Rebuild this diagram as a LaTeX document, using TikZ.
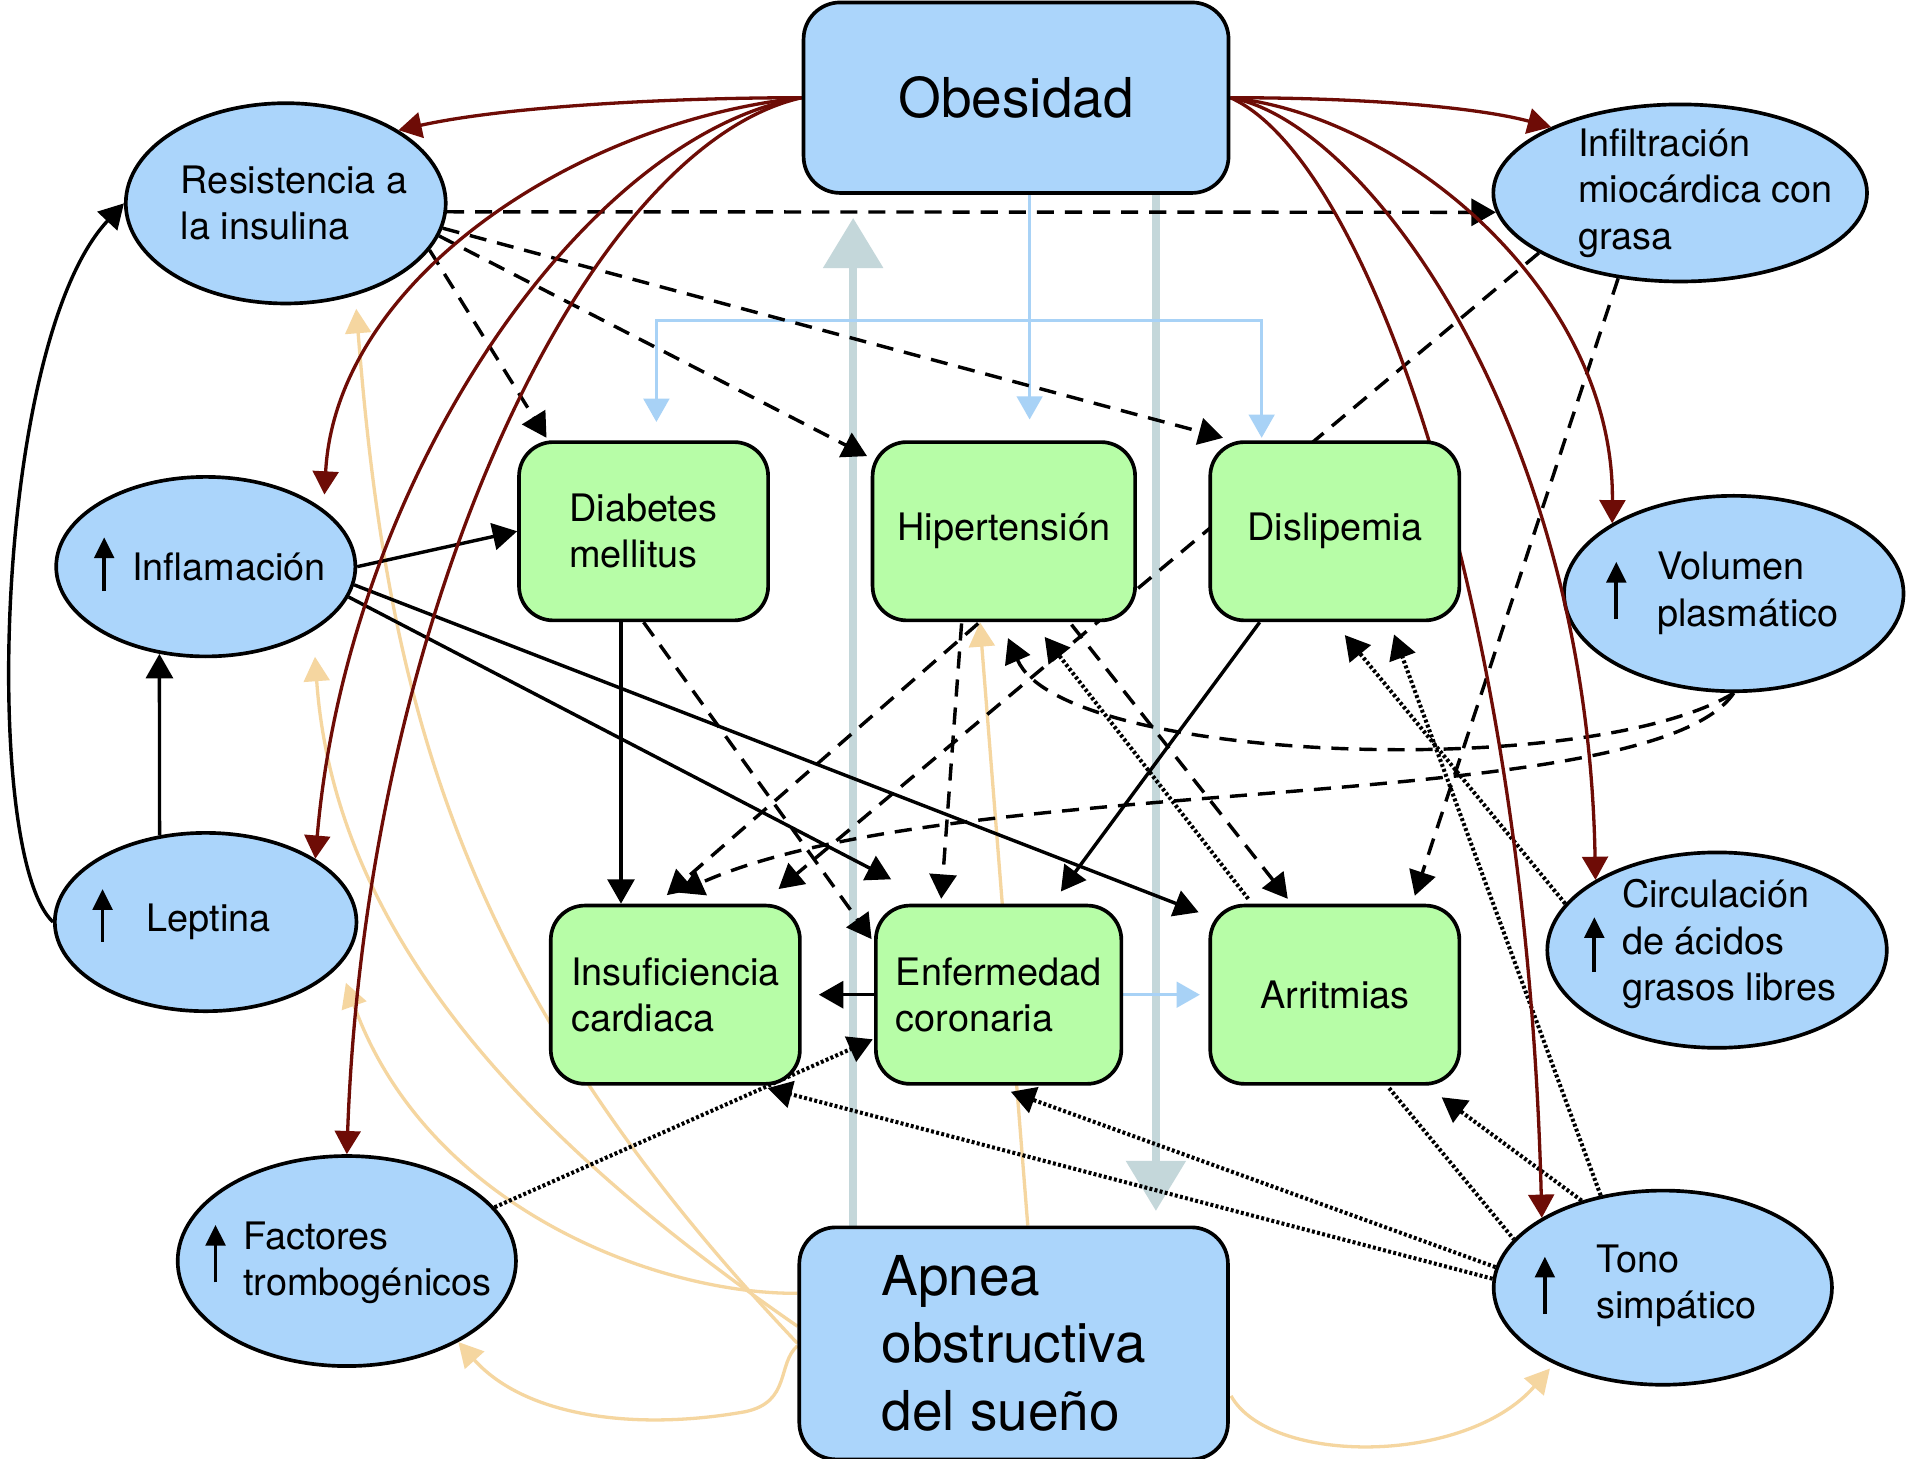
\documentclass[tikz,border=0pt]{standalone}
\usepackage{fontspec}
\setmainfont{TeX Gyre Heros}
\usetikzlibrary{arrows.meta,shapes.geometric,calc}
\pgfdeclarelayer{back}
\pgfdeclarelayer{edges}
\pgfsetlayers{back,edges,main}
\definecolor{cBlue}{RGB}{171,213,251}
\definecolor{cGreen}{RGB}{183,253,167}
\definecolor{cRed}{RGB}{110,12,6}
\definecolor{cTan}{RGB}{245,214,160}
\definecolor{cLine}{RGB}{168,210,246}
\definecolor{cGrey}{RGB}{196,215,218}
\newcommand\normf{\fontsize{31}{38}\selectfont}
\newcommand\bigf{\fontsize{45}{55}\selectfont}
\tikzset{
  nbox/.style={draw, line width=3pt, align=left, inner sep=0pt},
  bluebox/.style={nbox, fill=cBlue, rounded corners=30pt, font=\bigf},
  greenbox/.style={nbox, fill=cGreen, rounded corners=28pt, font=\normf, minimum width=204pt, minimum height=146pt},
  ell/.style={draw, ellipse, line width=3pt, fill=cBlue, inner sep=0pt},
  lbl/.style={anchor=west, align=left, inner sep=0pt, font=\normf},
  upar/.style={line width=3pt, -{Triangle[length=17pt,width=16pt]}},
  blk/.style={line width=2.8pt, -{Triangle[length=20pt,width=22pt]}},
  dsh/.style={blk, dash pattern=on 14pt off 9pt},
  dotl/.style={line width=3.3pt, dash pattern=on 2.4pt off 1.9pt},
  dtt/.style={dotl, -{Triangle[length=20pt,width=22pt]}},
  rd/.style={line width=2.7pt, draw=cRed, -{Triangle[length=19pt,width=21pt]}, color=cRed},
  ta/.style={line width=2.7pt, draw=cTan, -{Triangle[length=20pt,width=21pt]}, color=cTan},
  bl/.style={line width=2.3pt, draw=cLine, -{Triangle[length=19pt,width=21pt]}, color=cLine},
  gr/.style={line width=6pt, draw=cGrey, -{Triangle[length=41pt,width=48pt]}, color=cGrey}
}
\begin{document}
\begin{tikzpicture}[x=1pt,y=-1pt]
\begin{pgfonlayer}{back}
\fill[white] (0,0) rectangle (1564,1194);
\end{pgfonlayer}
\useasboundingbox (0,0) rectangle (1564,1194);

% ellipses (under the connectors)
\begin{pgfonlayer}{edges}
\node[ell, minimum width=262pt, minimum height=164pt] (res) at (234,166.5) {};
\node[ell, minimum width=245pt, minimum height=147pt] (inf) at (168.5,464) {};
\node[ell, minimum width=247pt, minimum height=146pt] (lep) at (168.4,755) {};
\node[ell, minimum width=277pt, minimum height=172pt] (fac) at (284,1032.6) {};
\node[ell, minimum width=306pt, minimum height=145pt] (infil) at (1375.8,158) {};
\node[ell, minimum width=278pt, minimum height=160pt] (vol) at (1419.7,486) {};
\node[ell, minimum width=278pt, minimum height=160pt] (circ) at (1406,778) {};
\node[ell, minimum width=277pt, minimum height=159pt] (tono) at (1361.6,1054.4) {};
\end{pgfonlayer}

% boxes (on top)
\node[bluebox, minimum width=348pt, minimum height=156pt] (ob) at (832,80) {Obesidad};
\node[bluebox, minimum width=351pt, minimum height=190pt] (ap) at (830,1100) {Apnea\\obstructiva\\del sueño};
\node[greenbox] (dm) at (527,435) {Diabetes\\mellitus};
\node[greenbox, minimum width=215pt] (hip) at (822,435) {Hipertensión};
\node[greenbox] (dis) at (1093,435) {Dislipemia};
\node[greenbox] (ic) at (553,814.5) {Insuficiencia\\cardiaca};
\node[greenbox, minimum width=201pt] (ec) at (817.7,814.5) {Enfermedad\\coronaria};
\node[greenbox] (arr) at (1093,814.5) {Arritmias};

% ellipse texts
\node[lbl] (resT) at (148,166) {Resistencia a\\la insulina};
\node[lbl] (infT) at (108,464) {Inflamación};
\node[lbl] (lepT) at (120,755) {Leptina};
\node[lbl] (facT) at (199,1034) {Factores\\trombogénicos};
\node[lbl] (infilT) at (1292,158) {Infiltración\\miocárdica con\\grasa};
\node[lbl] (volT) at (1357,486) {Volumen\\plasmático};
\node[lbl] (circT) at (1328,773) {Circulación\\de ácidos\\grasos libres};
\node[lbl] (tonoT) at (1307,1053) {Tono\\simpático};
\draw[upar] (85.3,484) -- (85.3,440);
\draw[upar] (84,771) -- (84,728);
\draw[upar] (176.5,1050) -- (176.5,1003);
\draw[upar] (1323.5,507) -- (1323.5,460);
\draw[upar] (1305.5,796) -- (1305.5,751);
\draw[upar] (1265,1076) -- (1265,1029);

\coordinate (busC) at ($(ob.south west)+(186.6,0)$);
\coordinate (busJ) at ($(busC)+(0,103)$);
\coordinate (dmN) at ($(dm.north west)+(114,0)$);
\coordinate (disN) at ($(dis.north west)+(43.6,0)$);
\coordinate (apU) at ($(ap.north west)+(45.6,0)$);
\coordinate (obD) at ($(ob.south west)+(290,0)$);
\coordinate (dmS) at ($(dm.south west)+(85,0)$);

\begin{pgfonlayer}{edges}
% grey
\draw[gr, shorten >=19pt] (apU) -- (apU |- ob.south);
\draw[gr, shorten >=12pt] (obD) -- (obD |- ap.north);
% light blue
\draw[bl, shorten >=17pt] (busC) -- (busC |- hip.north);
\draw[bl, shorten >=15pt] (busJ) -| (dmN);
\draw[bl, shorten >=2pt] (busJ) -| (disN);
\draw[bl, shorten >=7pt] (ec.east) -- (arr.west);

% tan
\draw[ta, shorten >=11pt] (ap.west) .. controls (374,806) and (317,572) .. (res.-53);
\draw[ta, shorten >=21pt] ($(ap.west)+(0,-14)$) .. controls (454,948) and (275,780) .. (inf.-31);
\draw[ta, shorten >=15pt] ($(ap.west)+(0,-41)$) .. controls (540,1060) and (350,990) .. (lep.-18.5);
\draw[ta] ($(ap.west)+(0,2)$) .. controls (636,1117) and (648,1148) .. (610,1156) .. controls (520,1172) and (430,1160) .. (fac.-36);
\draw[ta] ($(ap.north west)+(188.6,0)$) -- ($(hip.south west)+(89.4,0)$);
\draw[ta, shorten >=5pt] ($(ap.east)+(1,43)$) .. controls (1040,1200) and (1200,1200) .. (tono.215);

% black solid
\draw[blk] (lep.west) .. controls (-15,700) and (-5,280) .. (res.west);
\draw[blk] (lep.118) -- (inf.242);
\draw[blk] (inf.east) -- (dm.west);
\draw[blk] (inf.-7) -- ($(arr.north west)+(-8,7)$);
\draw[blk] (inf.-12) -- ($(ec.north west)+(14,-20)$);
\draw[blk] (dmS) -- (dmS |- ic.north);
\draw[blk] ($(dis.south west)+(42,0)$) -- ($(ec.north west)+(153,-10)$);
\draw[blk, shorten >=14pt] (ec.west) -- (ic.east);

% dashed
\draw[dsh] (res.-3) -- (infil.186);
\draw[dsh] (res.-9) -- ($(dis.north west)+(12,-2)$);
\draw[dsh] (res.-12) -- ($(hip.north west)+(-3,13)$);
\draw[dsh] (res.-18) -- ($(dm.north west)+(24,-2)$);
\draw[dsh] (infil.203) -- ($(ic.north east)+(-19,-12)$);
\draw[dsh] (infil.234) -- ($(arr.north east)+(-38,-6.5)$);
\draw[dsh] (vol.south) .. controls (1300,640) and (870,625) .. ($(hip.south west)+(112.4,13)$);
\draw[dsh] (vol.south) .. controls (1350,670) and (780,630) .. ($(ic.north)+(3,-9)$);
\draw[dsh] ($(hip.south west)+(88,1)$) -- ($(ic.north)+(-7,-7)$);
\draw[dsh] ($(hip.south west)+(74.4,1)$) -- ($(ec.north west)+(55,-4)$);
\draw[dsh] ($(hip.south west)+(164.4,2)$) -- ($(arr.north west)+(65,-4)$);
\draw[dsh] (dm.south) -- ($(ec.north west)+(-2,29)$);

% dotted
\draw[dtt] (fac.20) -- ($(ec.south west)+(-1,-38)$);
\draw[dtt] (tono.177) -- ($(ic.south east)+(-28,2)$);
\draw[dtt] (tono.173) -- ($(ec.south)+(10,5)$);
\draw[dtt] (tono.133) -- ($(arr.south east)+(-16,9.5)$);
\draw[dotl] ($(arr.south west)+(148,2)$) -- (tono.162);
\draw[dtt] (tono.124) -- ($(dis.south west)+(152,10)$);
\draw[dtt] (circ.163) -- ($(dis.south west)+(111.7,10.5)$);
\draw[dtt] ($(arr.north west)+(32.6,-4)$) -- ($(hip.south west)+(142.4,12)$);

% dark red from Obesidad
\draw[rd] (ob.west) .. controls (560,80) and (420,86) .. (res.33);
\draw[rd, shorten >=12pt] (ob.west) .. controls (470,100) and (275,230) .. (inf.26);
\draw[rd] (ob.west) .. controls (480,110) and (285,390) .. (lep.30);
\draw[rd] (ob.west) .. controls (480,120) and (300,500) .. (fac.north);
\draw[rd] (ob.east) .. controls (1120,80) and (1210,88) .. (infil.153);
\draw[rd] (ob.east) .. controls (1150,95) and (1322,240) .. (vol.150);
\draw[rd] (ob.east) .. controls (1120,100) and (1300,350) .. (circ.150);
\draw[rd] (ob.east) .. controls (1120,130) and (1250,500) .. (tono.150);
\end{pgfonlayer}
\end{tikzpicture}
\end{document}
